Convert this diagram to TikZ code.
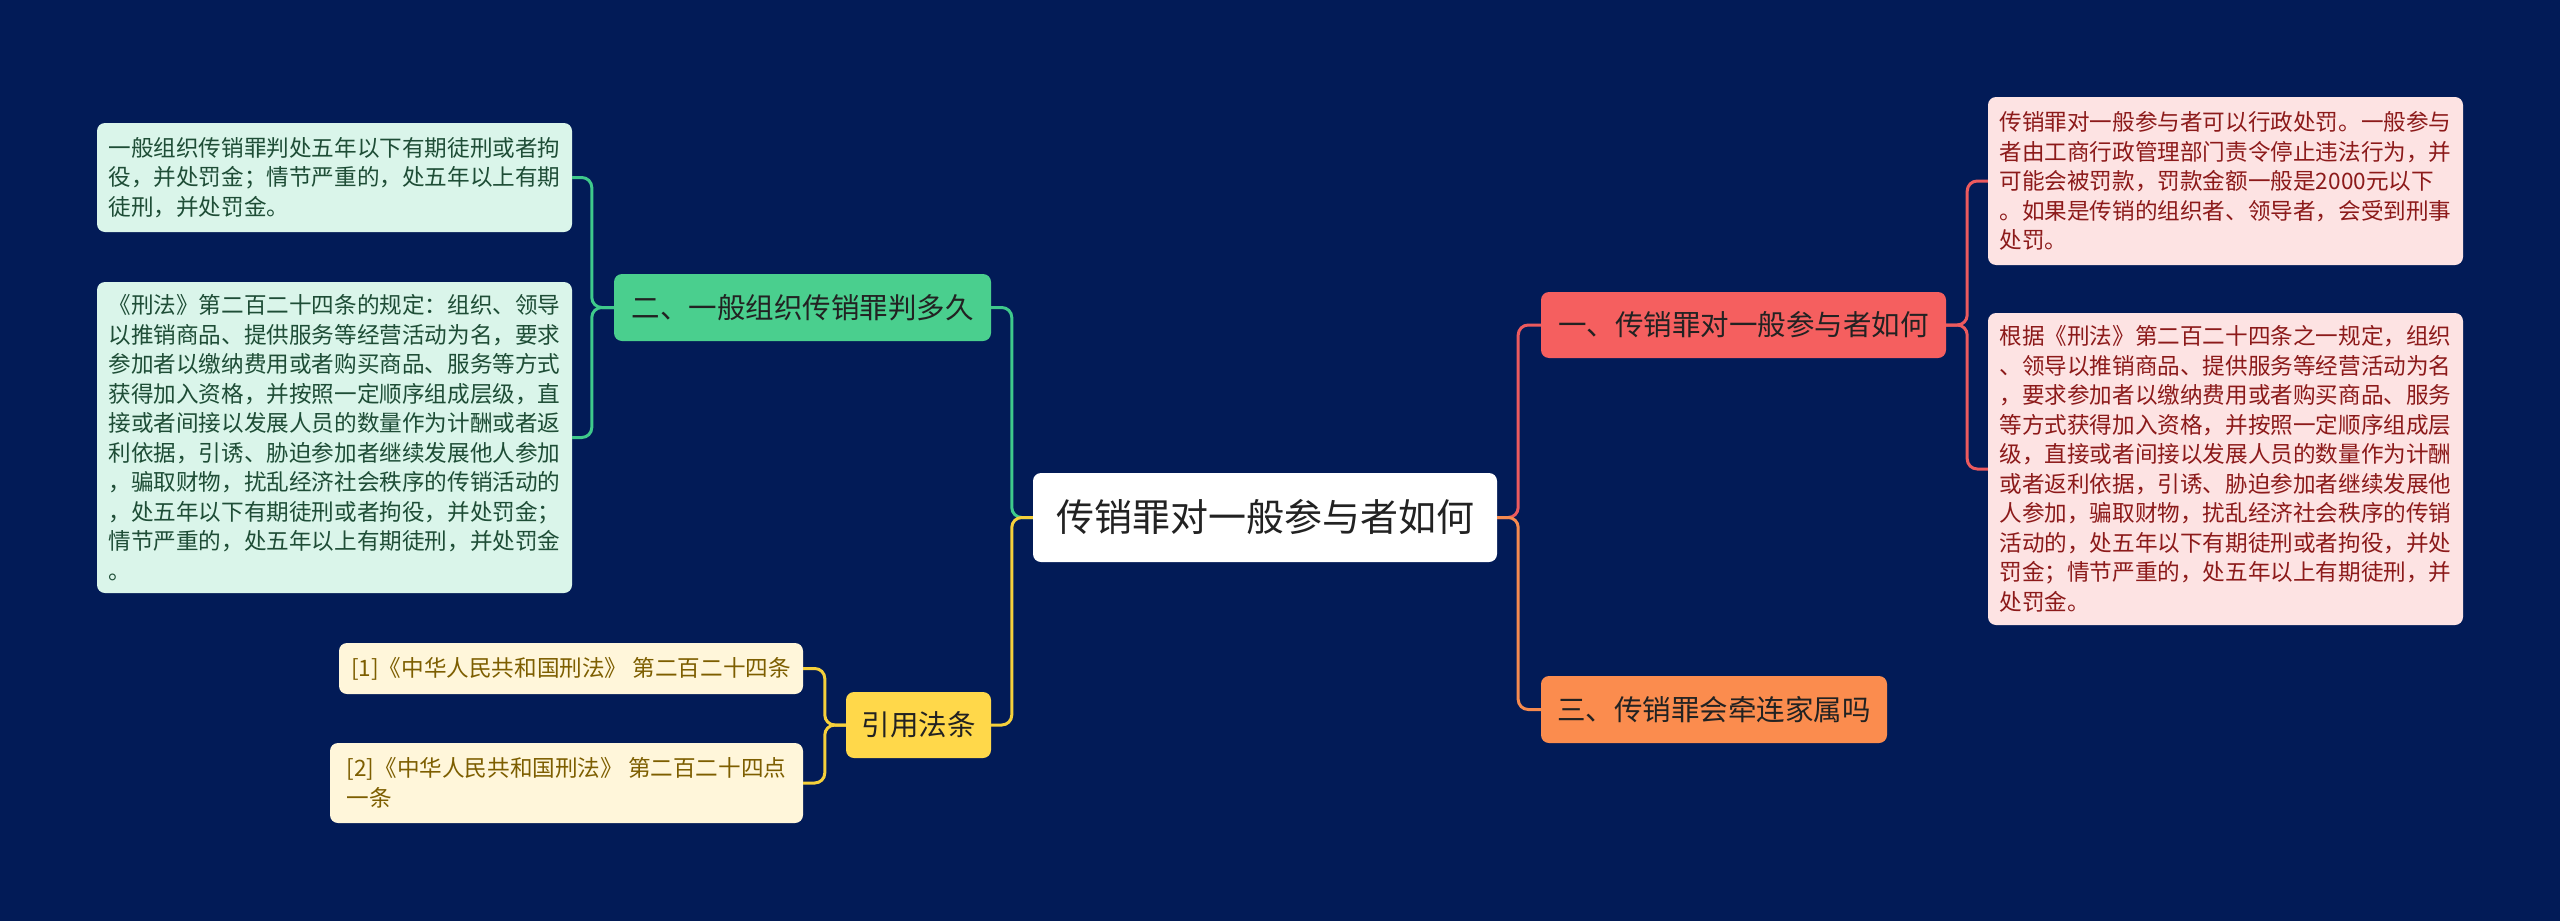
\documentclass[tikz,border=0pt]{standalone}
\usepackage{fontspec}
\setmainfont{Noto Sans CJK SC}
\definecolor{bg}{HTML}{021B57}
\definecolor{redfill}{HTML}{F55F5F}
\definecolor{redline}{HTML}{EC5A5E}
\definecolor{redleaf}{HTML}{FDE3E3}
\definecolor{redtext}{HTML}{8C1A1A}
\definecolor{orangefill}{HTML}{FB8C4E}
\definecolor{orangeline}{HTML}{F58A4F}
\definecolor{greenfill}{HTML}{4ACF8E}
\definecolor{greenline}{HTML}{3FC98B}
\definecolor{greenleaf}{HTML}{DAF5EA}
\definecolor{greentext}{HTML}{1E4D36}
\definecolor{yellowfill}{HTML}{FFD84A}
\definecolor{yellowline}{HTML}{F5D03B}
\definecolor{yellowleaf}{HTML}{FFF6DA}
\definecolor{yellowtext}{HTML}{7D5E00}
\definecolor{darktext}{HTML}{222222}
\tikzset{
  base/.style={rounded corners=8pt, inner sep=0pt, align=center, text=darktext},
  rootbox/.style={base, fill=white, minimum width=464pt, minimum height=89pt, font=\fontsize{38}{44}\selectfont},
  mainbox/.style={base, minimum height=66pt, font=\fontsize{28.5}{34}\selectfont},
  leafbox/.style={base, align=left, font=\fontsize{22.6}{29.5}\selectfont},
  conn/.style={line width=3pt, rounded corners=10pt},
}
\begin{document}
\begin{tikzpicture}[x=1pt,y=-1pt]
\fill[bg] (0,0) rectangle (2560,921);
\useasboundingbox (0,0) rectangle (2560,921);

% root
\node[rootbox] (c) at (1265,517.5) {传销罪对一般参与者如何};

% main branches
\node[mainbox, fill=redfill, minimum width=405pt] (r) at (1743.5,325) {一、传销罪对一般参与者如何};
\node[mainbox, fill=orangefill, minimum width=346pt, minimum height=67pt] (o) at (1714,709.5) {三、传销罪会牵连家属吗};
\node[mainbox, fill=greenfill, minimum width=377pt, minimum height=67pt] (g) at (802.5,307.5) {二、一般组织传销罪判多久};
\node[mainbox, fill=yellowfill, minimum width=145pt] (y) at (918.5,725) {引用法条};

% red leaves
\node[leafbox, fill=redleaf, text=redtext, minimum width=475pt, minimum height=168pt] (rl1) at (2225.5,181) {传销罪对一般参与者可以行政处罚。一般参与\\者由工商行政管理部门责令停止违法行为，并\\可能会被罚款，罚款金额一般是2000元以下\\。如果是传销的组织者、领导者，会受到刑事\\处罚。};
\node[leafbox, fill=redleaf, text=redtext, minimum width=475pt, minimum height=312pt] (rl2) at (2225.5,469) {根据《刑法》第二百二十四条之一规定，组织\\、领导以推销商品、提供服务等经营活动为名\\，要求参加者以缴纳费用或者购买商品、服务\\等方式获得加入资格，并按照一定顺序组成层\\级，直接或者间接以发展人员的数量作为计酬\\或者返利依据，引诱、胁迫参加者继续发展他\\人参加，骗取财物，扰乱经济社会秩序的传销\\活动的，处五年以下有期徒刑或者拘役，并处\\罚金；情节严重的，处五年以上有期徒刑，并\\处罚金。};

% green leaves
\node[leafbox, fill=greenleaf, text=greentext, minimum width=475pt, minimum height=109pt] (gl1) at (334.5,177.5) {一般组织传销罪判处五年以下有期徒刑或者拘\\役，并处罚金；情节严重的，处五年以上有期\\徒刑，并处罚金。};
\node[leafbox, fill=greenleaf, text=greentext, minimum width=475pt, minimum height=311pt] (gl2) at (334.5,437.5) {《刑法》第二百二十四条的规定：组织、领导\\以推销商品、提供服务等经营活动为名，要求\\参加者以缴纳费用或者购买商品、服务等方式\\获得加入资格，并按照一定顺序组成层级，直\\接或者间接以发展人员的数量作为计酬或者返\\利依据，引诱、胁迫参加者继续发展他人参加\\，骗取财物，扰乱经济社会秩序的传销活动的\\，处五年以下有期徒刑或者拘役，并处罚金；\\情节严重的，处五年以上有期徒刑，并处罚金\\。};

% yellow leaves
\node[leafbox, fill=yellowleaf, text=yellowtext, minimum width=464pt, minimum height=51pt] (yl1) at (571,668.5) {[1]《中华人民共和国刑法》 第二百二十四条};
\node[leafbox, fill=yellowleaf, text=yellowtext, minimum width=473pt, minimum height=80pt] (yl2) at (566.5,783) {[2]《中华人民共和国刑法》 第二百二十四点\\一条};

% connectors root -> main
\draw[conn, redline] (c.east) -- ++(21,0) |- (r.west);
\draw[conn, orangeline] (c.east) -- ++(21,0) |- (o.west);
\draw[conn, greenline] (c.west) -- ++(-21,0) |- (g.east);
\draw[conn, yellowline] (c.west) -- ++(-21,0) |- (y.east);

% main -> leaves
\draw[conn, redline] (r.east) -- ++(21,0) |- (rl1.west);
\draw[conn, redline] (r.east) -- ++(21,0) |- (rl2.west);
\draw[conn, greenline] (g.west) -- ++(-22,0) |- (gl1.east);
\draw[conn, greenline] (g.west) -- ++(-22,0) |- (gl2.east);
\draw[conn, yellowline] (y.west) -- ++(-21,0) |- (yl1.east);
\draw[conn, yellowline] (y.west) -- ++(-21,0) |- (yl2.east);
\end{tikzpicture}
\end{document}
